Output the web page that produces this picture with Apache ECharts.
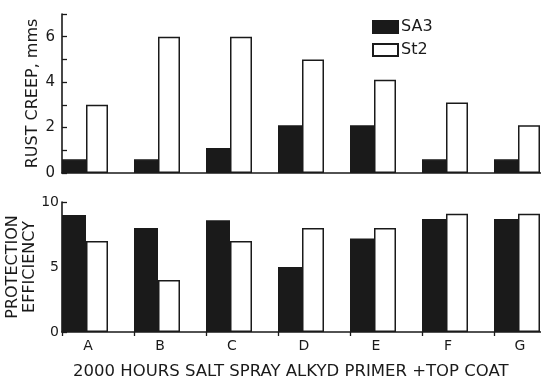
<!DOCTYPE html>
<html>
<head>
<meta charset="utf-8">
<script src="https://cdn.jsdelivr.net/npm/echarts@6/dist/echarts.min.js"></script>
<style>
  html, body { margin: 0; padding: 0; background: #fff; }
  #chart { width: 541px; height: 381px; }
</style>
</head>
<body>
<div id="chart"></div>
<script>
// Coating systems on the horizontal axis
const categories = ['A', 'B', 'C', 'D', 'E', 'F', 'G'];

// Rust creep (mm) after 2000 h salt spray
const creepSA3 = [0.6, 0.6, 1.1, 2.1, 2.1, 0.6, 0.6];
const creepSt2 = [3.0, 6.0, 6.0, 5.0, 4.1, 3.1, 2.1];

// Protection efficiency rating
const effSA3 = [9.0, 8.0, 8.6, 5.0, 7.2, 8.7, 8.7];
const effSt2 = [7.0, 4.0, 7.0, 8.0, 8.0, 9.1, 9.1];

// Axis ticks
const creepLabels = [0, 2, 4, 6];
const effLabels = [0, 5, 10];

const FONT = '"DejaVu Sans", sans-serif';
const INK = '#1a1a1a';

const chart = echarts.init(document.getElementById('chart'), null, { renderer: 'canvas' });

function barPair(gridIndex, sa3, st2) {
  return [
    {
      name: 'SA3', type: 'bar', xAxisIndex: gridIndex, yAxisIndex: gridIndex,
      data: sa3, barWidth: 24, barGap: 0,
      itemStyle: { color: INK, borderColor: INK, borderWidth: 1.5 },
      silent: true
    },
    {
      name: 'St2', type: 'bar', xAxisIndex: gridIndex, yAxisIndex: gridIndex,
      data: st2, barWidth: 22, barGap: 0,
      itemStyle: { color: '#fff', borderColor: INK, borderWidth: 1.5 },
      silent: true
    },
    {
      // empty spacer keeps each pair at the left of its category slot
      name: 'spacer', type: 'bar', xAxisIndex: gridIndex, yAxisIndex: gridIndex,
      data: categories.map(() => null), barWidth: 26, barGap: 0,
      itemStyle: { color: 'transparent' }, silent: true
    }
  ];
}

const axisLineStyle = { show: true, lineStyle: { color: INK, width: 1.6 } };

chart.setOption({
  animation: false,
  backgroundColor: '#fff',
  textStyle: { fontFamily: FONT, color: INK },
  legend: {
    data: ['SA3', 'St2'],
    orient: 'vertical',
    left: 367, top: 14,
    itemWidth: 25, itemHeight: 12, itemGap: 7,
    icon: 'rect',
    textStyle: { fontFamily: FONT, fontSize: 16, color: INK, padding: [0, 0, 0, -2] },
    selectedMode: false
  },
  grid: [
    { left: 62, top: 14, right: -25, bottom: 208, outerBoundsMode: 'none', containLabel: false },
    { left: 62, top: 202, right: -25, bottom: 49, outerBoundsMode: 'none', containLabel: false }
  ],
  xAxis: [
    {
      type: 'category', gridIndex: 0, data: categories,
      axisLine: axisLineStyle, axisTick: { show: false }, axisLabel: { show: false }
    },
    {
      type: 'category', gridIndex: 1, data: categories,
      axisLine: axisLineStyle,
      axisTick: { show: true, length: 4, lineStyle: { color: INK, width: 1.3 } },
      axisLabel: {
        fontFamily: FONT, fontSize: 14, color: INK, margin: 7,
        padding: [0, 20, 0, 0]
      }
    }
  ],
  yAxis: [
    {
      type: 'value', gridIndex: 0, min: 0, max: 7, interval: 1,
      name: 'RUST CREEP, mms', nameLocation: 'middle', nameGap: 21,
      nameRotate: 90, nameMoveOverlap: false,
      nameTextStyle: { fontFamily: FONT, fontSize: 16, color: INK },
      axisLine: axisLineStyle,
      axisTick: { show: true, inside: true, length: 5, lineStyle: { color: INK, width: 1.3 } },
      axisLabel: {
        fontFamily: FONT, fontSize: 15, color: INK, margin: 7,
        formatter: v => creepLabels.includes(v) ? String(v) : ''
      },
      splitLine: { show: false }
    },
    {
      type: 'value', gridIndex: 1, min: 0, max: 10, interval: 5,
      name: 'PROTECTION\nEFFICIENCY', nameLocation: 'middle', nameGap: 24,
      nameRotate: 90, nameMoveOverlap: false,
      nameTextStyle: { fontFamily: FONT, fontSize: 16, color: INK, lineHeight: 17 },
      axisLine: axisLineStyle,
      axisTick: { show: true, inside: true, length: 5, lineStyle: { color: INK, width: 1.3 } },
      axisLabel: {
        fontFamily: FONT, fontSize: 14, color: INK, margin: 3,
        formatter: v => effLabels.includes(v) ? String(v) : ''
      },
      splitLine: { show: false }
    }
  ],
  graphic: [
    {
      type: 'text', left: 73, top: 363,
      style: {
        text: '2000 HOURS SALT SPRAY ALKYD PRIMER +TOP COAT',
        font: '16.5px ' + FONT, fill: INK
      }
    }
  ],
  series: [...barPair(0, creepSA3, creepSt2), ...barPair(1, effSA3, effSt2)]
});
</script>
</body>
</html>
